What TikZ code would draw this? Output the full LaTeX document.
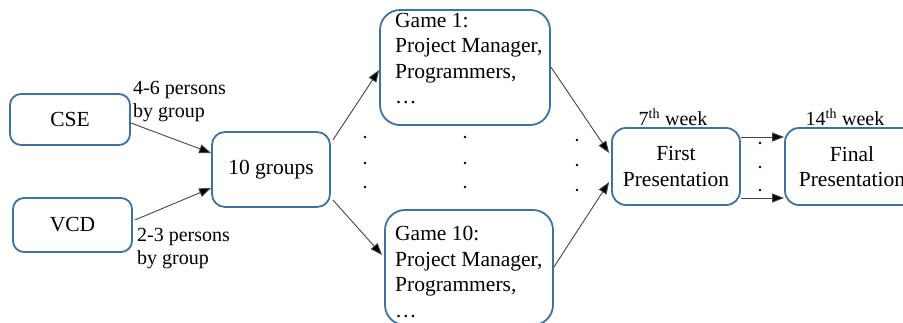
\documentclass[tikz,border=0pt]{standalone}
\usepackage{fontspec}
\setmainfont{Liberation Serif}
\newfontfamily\timesfont{Liberation Serif}
\usetikzlibrary{arrows.meta,calc}
\definecolor{boxblue}{RGB}{65,113,156}
\definecolor{linegray}{RGB}{70,70,70}
\tikzset{
  stagebox/.style={draw=boxblue, line width=1.8pt, fill=white, inner sep=0pt,
    font=\timesfont\fontsize{21.5}{25.5}\selectfont, align=center},
  flow/.style={draw=linegray, line width=0.9pt,
    -{Triangle[length=12pt,width=9pt,fill=black]}},
  note/.style={inner sep=0pt, font=\timesfont\fontsize{20}{23}\selectfont, align=left},
  weeknote/.style={inner sep=0pt, font=\timesfont\fontsize{20}{23}\selectfont},
  listtext/.style={inner sep=0pt, anchor=north west, align=left,
    font=\timesfont\fontsize{21.5}{25.5}\selectfont},
}
\begin{document}
\begin{tikzpicture}[x=1pt,y=-1pt]
\clip (0,0) rectangle (903,322);
\fill[white] (0,0) rectangle (903,322);

% stage boxes
\node[stagebox, rounded corners=11pt, minimum width=120pt, minimum height=51pt] (cse) at (70,119.5) {CSE};
\node[stagebox, rounded corners=11pt, minimum width=119pt, minimum height=54pt] (vcd) at (72.5,225) {VCD};
\node[stagebox, rounded corners=13pt, minimum width=118pt, minimum height=75pt] (grp) at (271,169.5) {10 groups};
\node[stagebox, rounded corners=20pt, minimum width=170pt, minimum height=115pt] (g1) at (465,67.5) {};
\node[stagebox, rounded corners=20pt, minimum width=168pt, minimum height=115pt] (g10) at (469,267.5) {};
\node[stagebox, rounded corners=14pt, minimum width=128pt, minimum height=77pt] (fp) at (676,166.5) {First\\Presentation};
\node[stagebox, rounded corners=14pt, minimum width=134pt, minimum height=77pt] (fin) at (852,166.5) {Final\\Presentation};

% game contents
\node[listtext] (g1t) at (395,13) {Game 1:\\Project Manager,\\Programmers,\\\dots};
\node[listtext] (g10t) at (395,226) {Game 10:\\Project Manager,\\Programmers,\\\dots};

% group size notes and schedule
\node[note, anchor=west] (cseN) at (133,101.5) {4-6 persons\\by group};
\node[note, anchor=west] (vcdN) at (137,248.5) {2-3 persons\\by group};
\node[weeknote] (w7) at (673,117) {7\textsuperscript{th} week};
\node[weeknote] (w14) at (845,117) {14\textsuperscript{th} week};

% connectors
\draw[flow] ($(cse.east)+(0,3.5)$) -- ($(grp.west)+(0,-16.5)$);
\draw[flow] ($(vcd.east)+(2,-5)$) -- ($(grp.west)+(0,18.5)$);
\draw[flow] ($(grp.east)+(2,-29.5)$) -- ($(g1.west)+(0,2.5)$);
\draw[flow] ($(grp.east)+(2,30.5)$) -- ($(g10.west)+(-2,-12.5)$);
\draw[flow] ($(g1.east)+(0,-0.5)$) -- ($(fp.west)+(-2,-13.5)$);
\draw[flow] ($(g10.east)+(0,-0.5)$) -- ($(fp.west)+(-2,15.5)$);
\draw[flow] ($(fp.east)+(0,-29.5)$) -- ($(fin.west)+(0,-29.5)$);
\draw[flow] ($(fp.east)+(0,31.5)$) -- ($(fin.west)+(0,31.5)$);

% ellipsis dots between the game boxes and presentations
\foreach \x/\ya/\yb/\yc in {365/137/163/187, 465/137/163/187, 577/140/165/190, 760/143/167/190}{
  \fill[black] (\x,\ya) circle (1.3pt) (\x,\yb) circle (1.3pt) (\x,\yc) circle (1.3pt);
}
\end{tikzpicture}
\end{document}
